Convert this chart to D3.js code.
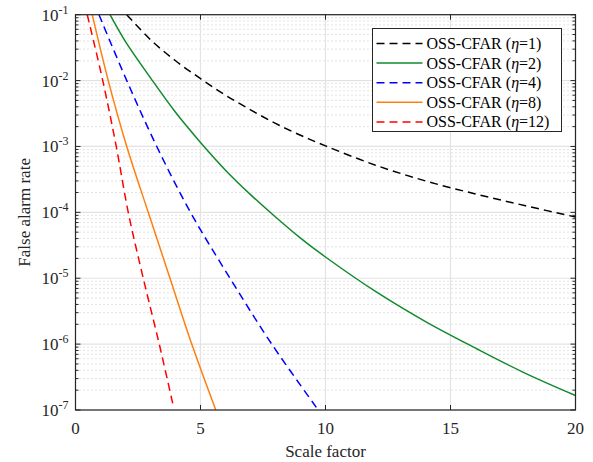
<!DOCTYPE html>
<html lang="en">
<head>
  <meta charset="UTF-8">
  <title>False alarm rate vs scale factor</title>
  <script src="https://d3js.org/d3.v7.min.js"></script>
  <style>
    body { margin: 0; padding: 0; background: white; }
    svg text { font-family: "Liberation Serif", "DejaVu Serif", serif; }
  </style>
</head>
<body>
  <svg id="chart" width="593" height="462"></svg>

  <script>
    // Data (x = scale factor, y = false alarm rate)
    const eta1X = [2.05, 3, 4, 5, 6, 7, 8, 9, 10, 12, 14, 16, 18, 20];
    const eta1Y = [1e-1, 4.17e-2, 2.0e-2, 1.07e-2, 6.0e-3, 3.6e-3, 2.24e-3, 1.48e-3, 1.02e-3, 5.2e-4, 3.0e-4, 1.9e-4, 1.26e-4, 8.5e-5];

    const eta2X = [1.38, 2, 3, 4, 5, 6, 7, 8, 9, 10, 12, 14, 16, 18, 20];
    const eta2Y = [1e-1, 3.9e-2, 1.1e-2, 3.3e-3, 1.15e-3, 4.37e-4, 1.86e-4, 8.5e-5, 4.07e-5, 2.1e-5, 6.3e-6, 2.2e-6, 8.7e-7, 3.6e-7, 1.66e-7];

    const eta4X = [0.94, 2.05, 3.25, 4.6, 6.18, 7.85, 9.71];
    const eta4Y = [1e-1, 1e-2, 1e-3, 1e-4, 1e-5, 1e-6, 1e-7];

    const eta8X = [0.67, 1.31, 2.05, 2.91, 3.78, 4.65, 5.61];
    const eta8Y = [1e-1, 1e-2, 1e-3, 1e-4, 1e-5, 1e-6, 1e-7];

    const eta12X = [0.47, 1.09, 1.63, 2.11, 2.71, 3.35, 3.89];
    const eta12Y = [1e-1, 1e-2, 1e-3, 1e-4, 1e-5, 1e-6, 1.25e-7];

    const seriesNames = ["OSS-CFAR (η=1)", "OSS-CFAR (η=2)", "OSS-CFAR (η=4)", "OSS-CFAR (η=8)", "OSS-CFAR (η=12)"];
    const xTicks = [0, 5, 10, 15, 20];
    const yExponents = [-1, -2, -3, -4, -5, -6, -7];

    const series = [
      { name: seriesNames[0], xs: eta1X, ys: eta1Y, color: "#000000", dash: "8,5" },
      { name: seriesNames[1], xs: eta2X, ys: eta2Y, color: "#118a2e", dash: null },
      { name: seriesNames[2], xs: eta4X, ys: eta4Y, color: "#0000ff", dash: "8,5" },
      { name: seriesNames[3], xs: eta8X, ys: eta8Y, color: "#ff7f0e", dash: null },
      { name: seriesNames[4], xs: eta12X, ys: eta12Y, color: "#ff0000", dash: "8,5" }
    ];

    const svg = d3.select("#chart");
    const margin = { left: 75.5, top: 14.7, right: 17.5, bottom: 52 };
    const W = 593 - margin.left - margin.right;
    const H = 462 - margin.top - margin.bottom;

    const x = d3.scaleLinear().domain([0, 20]).range([0, W]);
    const y = d3.scaleLog().domain([1e-7, 1e-1]).range([H, 0]);

    const g = svg.append("g").attr("transform", `translate(${margin.left},${margin.top})`);

    // minor grid (dotted) at 2..9 of each decade
    const minorVals = [];
    for (let e = -7; e < -1; e++) {
      for (let k = 2; k <= 9; k++) minorVals.push(k * Math.pow(10, e));
    }
    g.selectAll(".minor").data(minorVals).enter().append("line")
      .attr("x1", 0).attr("x2", W)
      .attr("y1", d => y(d)).attr("y2", d => y(d))
      .attr("stroke", "#c8c8c8").attr("stroke-width", 1)
      .attr("stroke-dasharray", "1,3");

    // major grid
    g.selectAll(".hgrid").data(yExponents).enter().append("line")
      .attr("x1", 0).attr("x2", W)
      .attr("y1", d => y(Math.pow(10, d))).attr("y2", d => y(Math.pow(10, d)))
      .attr("stroke", "#e3e3e3").attr("stroke-width", 1.2);
    g.selectAll(".vgrid").data(xTicks).enter().append("line")
      .attr("x1", d => x(d)).attr("x2", d => x(d))
      .attr("y1", 0).attr("y2", H)
      .attr("stroke", "#e3e3e3").attr("stroke-width", 1.2);

    // curves
    g.append("clipPath").attr("id", "clip").append("rect").attr("width", W).attr("height", H);
    const line = d3.line()
      .x(d => x(d[0]))
      .y(d => y(d[1]))
      .curve(d3.curveCatmullRom.alpha(0.5));

    series.forEach(s => {
      const pts = s.xs.map((v, i) => [v, s.ys[i]]);
      g.append("path")
        .attr("clip-path", "url(#clip)")
        .attr("d", line(pts))
        .attr("fill", "none")
        .attr("stroke", s.color)
        .attr("stroke-width", 1.5)
        .attr("stroke-dasharray", s.dash);
    });

    // axes box and ticks
    const axisColor = "#262626";
    const tickLen = 5;
    g.append("rect").attr("width", W).attr("height", H)
      .attr("fill", "none").attr("stroke", axisColor).attr("stroke-width", 1.2);

    xTicks.forEach(t => {
      g.append("line").attr("x1", x(t)).attr("x2", x(t)).attr("y1", H).attr("y2", H - tickLen)
        .attr("stroke", axisColor);
      g.append("line").attr("x1", x(t)).attr("x2", x(t)).attr("y1", 0).attr("y2", tickLen)
        .attr("stroke", axisColor);
      g.append("text").attr("x", x(t)).attr("y", H + 24)
        .attr("text-anchor", "middle").attr("font-size", 17).attr("fill", "#262626")
        .text(t);
    });

    yExponents.forEach(e => {
      const yy = y(Math.pow(10, e));
      g.append("line").attr("x1", 0).attr("x2", tickLen).attr("y1", yy).attr("y2", yy).attr("stroke", axisColor);
      g.append("line").attr("x1", W).attr("x2", W - tickLen).attr("y1", yy).attr("y2", yy).attr("stroke", axisColor);
      const t = g.append("text").attr("x", -7).attr("y", yy + 6)
        .attr("text-anchor", "end").attr("font-size", 17).attr("fill", "#262626");
      t.append("tspan").text("10");
      t.append("tspan").attr("dy", -7).attr("font-size", 12).text(String(e));
    });
    minorVals.forEach(v => {
      const yy = y(v);
      g.append("line").attr("x1", 0).attr("x2", 3).attr("y1", yy).attr("y2", yy).attr("stroke", axisColor);
      g.append("line").attr("x1", W).attr("x2", W - 3).attr("y1", yy).attr("y2", yy).attr("stroke", axisColor);
    });

    // axis labels
    svg.append("text").attr("x", margin.left + W / 2).attr("y", 457)
      .attr("text-anchor", "middle").attr("font-size", 17).attr("fill", "#262626")
      .text("Scale factor");
    svg.append("text").attr("transform", `translate(30,${margin.top + H / 2}) rotate(-90)`)
      .attr("text-anchor", "middle").attr("font-size", 17).attr("fill", "#262626")
      .text("False alarm rate");

    // legend
    const lg = svg.append("g").attr("transform", "translate(372.5,28.5)");
    lg.append("rect").attr("width", 189).attr("height", 103)
      .attr("fill", "white").attr("stroke", axisColor).attr("stroke-width", 1);
    series.forEach((s, i) => {
      const yy = 15 + i * 19.6;
      lg.append("line").attr("x1", 4).attr("x2", 50).attr("y1", yy).attr("y2", yy)
        .attr("stroke", s.color).attr("stroke-width", 1.5).attr("stroke-dasharray", s.dash);
      const t = lg.append("text").attr("x", 54).attr("y", yy + 5.5)
        .attr("font-size", 16).attr("fill", "#000");
      const parts = s.name.split("η");
      t.append("tspan").text(parts[0]);
      t.append("tspan").attr("font-style", "italic").text("η");
      t.append("tspan").text(parts[1]);
    });
  </script>
</body>
</html>
